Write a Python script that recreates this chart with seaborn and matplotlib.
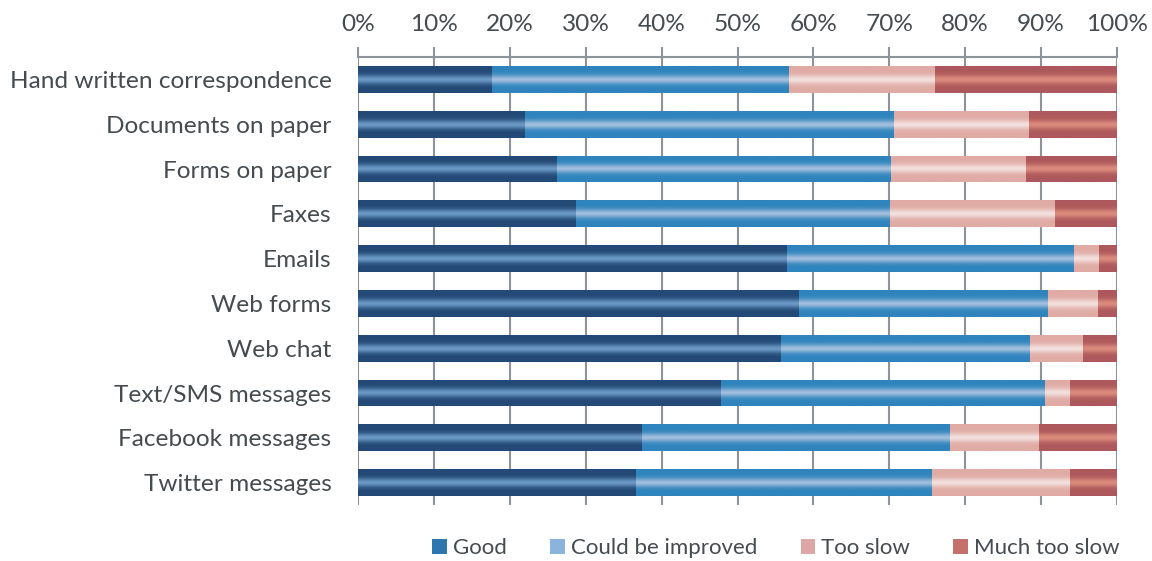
import numpy as np
import pandas as pd
import matplotlib
matplotlib.use("Agg")
import matplotlib.pyplot as plt
import seaborn as sns
from matplotlib.colors import LinearSegmentedColormap
from matplotlib.patches import Patch

# Survey data: share of responses per channel (%)
channels = [
    "Hand written correspondence",
    "Documents on paper",
    "Forms on paper",
    "Faxes",
    "Emails",
    "Web forms",
    "Web chat",
    "Text/SMS messages",
    "Facebook messages",
    "Twitter messages",
]
good = [17.6, 22.0, 26.1, 28.6, 56.5, 58.1, 55.6, 47.8, 37.3, 36.6]
could_be_improved = [39.1, 48.6, 44.0, 41.4, 37.8, 32.8, 32.9, 42.7, 40.6, 38.9]
too_slow = [19.3, 17.7, 17.9, 21.8, 3.2, 6.5, 6.9, 3.2, 11.8, 18.3]
much_too_slow = [24.0, 11.7, 12.0, 8.2, 2.5, 2.6, 4.6, 6.3, 10.3, 6.2]
series_names = ["Good", "Could be improved", "Too slow", "Much too slow"]
x_ticks = [0, 10, 20, 30, 40, 50, 60, 70, 80, 90, 100]

# (edge shade, centre highlight) of the banded bars, and flat legend swatches
bar_shades = {
    "Good": ("#234A77", "#6C98C5"),
    "Could be improved": ("#2F84BD", "#A0BEDD"),
    "Too slow": ("#E0ABA5", "#F3E0DD"),
    "Much too slow": ("#AD585C", "#DB8B7C"),
}
legend_colors = {
    "Good": "#2E77AE",
    "Could be improved": "#8AB4DD",
    "Too slow": "#DDA7A5",
    "Much too slow": "#C4716C",
}

text_color = "#454B4F"
grid_color = "#8D9398"

sns.set_theme(style="white")
plt.rcParams["font.family"] = ["Lato", "DejaVu Sans"]

df = pd.DataFrame({
    "channel": channels,
    "Good": good,
    "Could be improved": could_be_improved,
    "Too slow": too_slow,
    "Much too slow": much_too_slow,
})
cum = df[series_names].cumsum(axis=1)
cum["channel"] = df["channel"]

fig = plt.figure(figsize=(11.52, 5.61), dpi=100)
ax = fig.add_axes([358 / 1152, 1 - 505 / 561, (1117 - 358) / 1152, (505 - 57) / 561])

# vertical shading profile: dark edges, light stripe through the middle
t = np.linspace(-1, 1, 256)
profile = np.exp(-(t / 0.32) ** 2)[:, None]

# stacked bars: draw cumulative totals from the longest down
for layer, name in enumerate(reversed(series_names)):
    edge, centre = bar_shades[name]
    n_before = len(ax.patches)
    sns.barplot(data=cum, x=name, y="channel", orient="h", color=edge,
                saturation=1, width=0.6, linewidth=0, ax=ax, zorder=3 + 2 * layer)
    cmap = LinearSegmentedColormap.from_list(name, [edge, centre])
    for p in ax.patches[n_before:]:
        x0, y0 = p.get_x(), p.get_y()
        w, h = p.get_width(), p.get_height()
        im = ax.imshow(profile, extent=[x0, x0 + w, y0 + h, y0], aspect="auto",
                       cmap=cmap, vmin=0, vmax=1, interpolation="bilinear",
                       zorder=4 + 2 * layer)
        im.set_clip_path(p)

ax.set_xlim(0, 100)
ax.set_ylim(len(channels) - 0.5, -0.5)
ax.set_xticks(x_ticks)
ax.set_xticklabels([f"{v}%" for v in x_ticks])
ax.xaxis.tick_top()
ax.set_xlabel("")
ax.set_ylabel("")

ax.set_axisbelow(True)
ax.xaxis.grid(True, color=grid_color, linewidth=1.5)
ax.yaxis.grid(False)
for side in ["left", "right", "bottom"]:
    ax.spines[side].set_visible(False)
ax.spines["top"].set_color(grid_color)
ax.spines["top"].set_linewidth(1.5)

ax.tick_params(axis="x", which="both", top=True, bottom=False, length=7,
               width=1.5, color=grid_color, pad=9, labelsize=17.6,
               labelcolor=text_color)
ax.tick_params(axis="y", length=0, pad=19, labelsize=17.6, labelcolor=text_color)

handles = [Patch(facecolor=legend_colors[n], edgecolor="none", label=n)
           for n in series_names]
fig.legend(handles=handles, loc="center", bbox_to_anchor=(776 / 1152, 1 - 548 / 561),
           ncol=4, frameon=False, fontsize=16, labelcolor=text_color,
           handlelength=0.65, handleheight=0.65, handletextpad=0.28,
           columnspacing=1.95)

fig.savefig("out.png", dpi=100)
